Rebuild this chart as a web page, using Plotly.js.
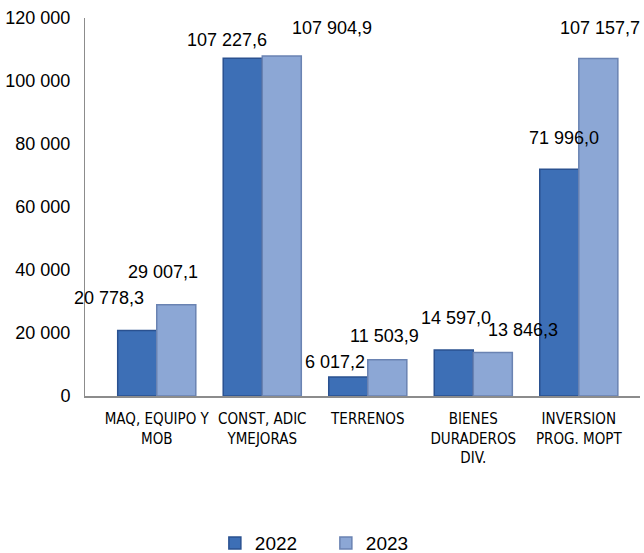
<!DOCTYPE html>
<html><head><meta charset="utf-8">
<script src="https://cdn.plot.ly/plotly-3.0.1.min.js"></script>
<style>html,body{margin:0;padding:0;background:#fff}#chart{width:644px;height:553px}</style>
</head><body><div id="chart"></div>
<script>
const categories = ["MAQ, EQUIPO Y<br>MOB", "CONST, ADIC<br>YMEJORAS", "TERRENOS", "BIENES<br>DURADEROS<br>DIV.", "INVERSION<br>PROG. MOPT"];
const values2022 = [20778.3, 107227.6, 6017.2, 14597.0, 71996.0];
const values2023 = [29007.1, 107904.9, 11503.9, 13846.3, 107157.7];
const labels2022 = ["20 778,3", "107 227,6", "6 017,2", "14 597,0", "71 996,0"];
const labels2023 = ["29 007,1", "107 904,9", "11 503,9", "13 846,3", "107 157,7"];
const yTickVals = [0, 20000, 40000, 60000, 80000, 100000, 120000];
const yTickText = ["0", "20 000", "40 000", "60 000", "80 000", "100 000", "120 000"];

// pixel offsets for data labels (styling, mimicking the original placement)
const shift2022 = [[-28, 33], [-15, 18], [-13, 15], [3, 32], [5, 31]];
const shift2023 = [[-14, 33], [50, 28], [-3, 24], [30, 22], [1, 30]];

const idx = categories.map((_, i) => i);
const labelFont = {family: "Liberation Sans", size: 18, color: "#000"};
const annotations = [];
idx.forEach(i => {
  annotations.push({x: i, y: values2022[i], xref: "x", yref: "y", text: labels2022[i], showarrow: false,
    xshift: -20 + shift2022[i][0], yshift: shift2022[i][1], font: labelFont});
  annotations.push({x: i, y: values2023[i], xref: "x", yref: "y", text: labels2023[i], showarrow: false,
    xshift: 20 + shift2023[i][0], yshift: shift2023[i][1], font: labelFont});
});

const data = [
  {type: "bar", name: "2022", x: idx, y: values2022,
   marker: {color: "#3d6fb6", line: {color: "#2a5190", width: 1.5}}},
  {type: "bar", name: "2023", x: idx, y: values2023,
   marker: {color: "#8ca7d5", line: {color: "#6a83b2", width: 1.5}}}
];
const layout = {
  width: 644, height: 553,
  margin: {l: 85, r: 4, t: 18, b: 157, autoexpand: false},
  paper_bgcolor: "#fff", plot_bgcolor: "#fff",
  barmode: "group", bargap: 0.26, bargroupgap: 0,
  showlegend: true,
  legend: {orientation: "h", x: 0.234, xanchor: "left", y: -0.389, yanchor: "middle",
    font: {family: "Liberation Sans", size: 19, color: "#000"}, itemwidth: 30, entrywidth: 66,
    tracegroupgap: 0},
  xaxis: {range: [-0.68, 4.58], tickvals: idx, ticktext: categories, showline: true, linecolor: "#8c8c8c",
    linewidth: 2, ticks: "", showgrid: false, zeroline: false, automargin: false, ticklabelstandoff: 8,
    tickfont: {family: "DejaVu Sans Condensed", size: 15, color: "#000"}},
  yaxis: {range: [0, 120000], tickvals: yTickVals, ticktext: yTickText, showline: true, linecolor: "#8c8c8c",
    linewidth: 1, ticks: "", showgrid: false, zeroline: false, ticklabelstandoff: 10, automargin: false,
    tickfont: {family: "Liberation Sans", size: 18, color: "#000"}},
  annotations: annotations
};
Plotly.newPlot("chart", data, layout, {displayModeBar: false, staticPlot: true});
</script></body></html>
